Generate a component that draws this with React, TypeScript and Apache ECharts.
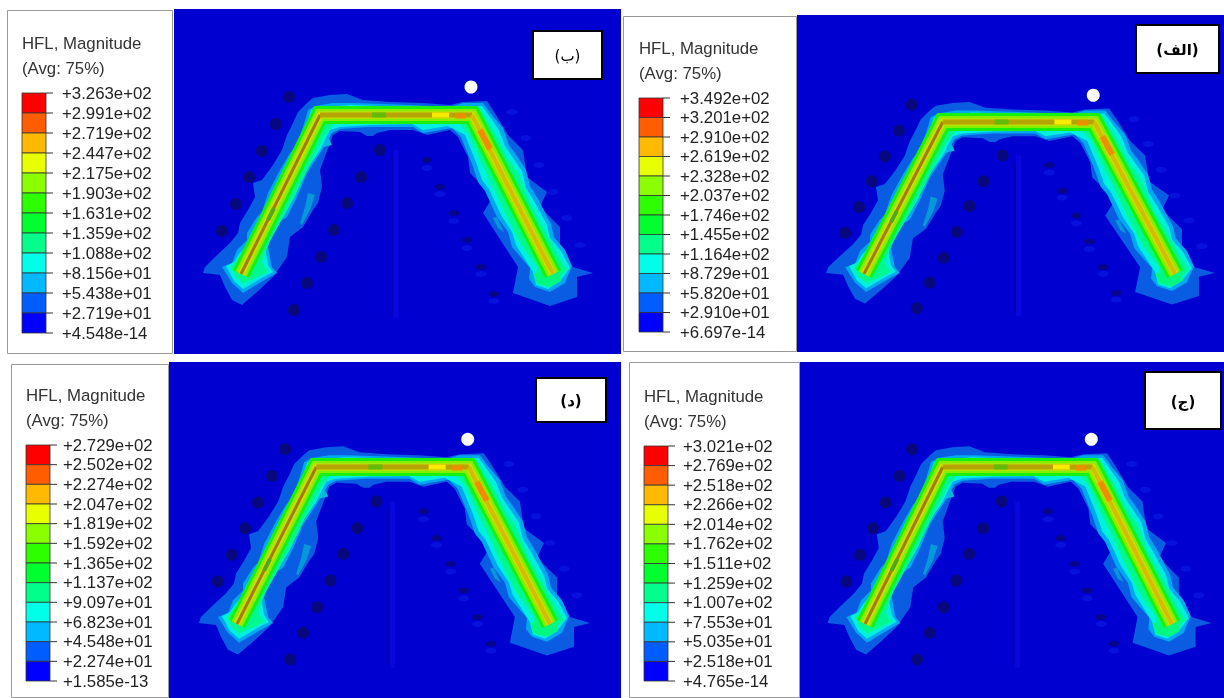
import React, { useEffect, useRef } from "react";
import * as echarts from "echarts";

// ---- legend values, one list per panel ----
const labelsB = ["+3.263e+02","+2.991e+02","+2.719e+02","+2.447e+02","+2.175e+02","+1.903e+02","+1.631e+02","+1.359e+02","+1.088e+02","+8.156e+01","+5.438e+01","+2.719e+01","+4.548e-14"];
const labelsA = ["+3.492e+02","+3.201e+02","+2.910e+02","+2.619e+02","+2.328e+02","+2.037e+02","+1.746e+02","+1.455e+02","+1.164e+02","+8.729e+01","+5.820e+01","+2.910e+01","+6.697e-14"];
const labelsD = ["+2.729e+02","+2.502e+02","+2.274e+02","+2.047e+02","+1.819e+02","+1.592e+02","+1.365e+02","+1.137e+02","+9.097e+01","+6.823e+01","+4.548e+01","+2.274e+01","+1.585e-13"];
const labelsJ = ["+3.021e+02","+2.769e+02","+2.518e+02","+2.266e+02","+2.014e+02","+1.762e+02","+1.511e+02","+1.259e+02","+1.007e+02","+7.553e+01","+5.035e+01","+2.518e+01","+4.765e-14"];
const bandColors = ["#ff0000","#ff5d00","#ffb900","#e8ff00","#8bff00","#2eff00","#00ff2e","#00ff8b","#00ffe8","#00b9ff","#005dff","#0000ff"];

// ---- contour outlines in model units ----
const contourOuter = [[203,273],[205,267],[215,257],[230,243],[238,233],[240,223],[248,210],[255,197],[253,183],[262,180],[273,165],[282,150],[287,135],[293,123],[298,112],[307,103],[313,98],[330,95],[347,94],[363,100],[390,102],[423,103],[450,105],[463,102],[487,101],[495,113],[508,135],[523,150],[527,177],[547,192],[540,207],[560,227],[560,250],[573,267],[593,273],[577,277],[577,297],[550,306],[513,293],[518,267],[507,250],[483,213],[492,198],[480,183],[470,173],[468,157],[458,137],[450,130],[427,135],[413,130],[390,130],[377,133],[373,136],[367,136],[360,132],[340,131],[333,135],[330,143],[320,170],[322,187],[318,203],[313,210],[303,227],[290,237],[287,257],[278,270],[273,277],[257,292],[242,305],[232,300],[225,287],[220,275]];
const contourLight = [[222,267],[232,263],[237,250],[247,240],[247,233],[257,217],[262,212],[268,193],[280,170],[290,153],[296,147],[303,127],[308,110],[315,106],[333,103],[353,103],[410,105],[450,107],[463,103],[483,103],[492,115],[503,128],[509,145],[515,153],[526,170],[530,186],[538,199],[551,224],[554,237],[565,250],[572,266],[565,283],[550,292],[535,287],[529,279],[530,268],[512,247],[508,232],[497,217],[485,191],[478,182],[472,164],[461,137],[452,128],[423,133],[413,127],[370,127],[340,129],[332,133],[322,150],[307,173],[297,197],[287,217],[276,224],[268,247],[272,267],[277,273],[268,278],[243,293],[232,283]];
const contourCyan = [[226,266],[234,262],[239,254],[249,243],[249,237],[260,218],[266,210],[272,192],[283,170],[294,150],[299,146],[306,126],[311,110],[318,108],[350,105],[410,107],[450,109],[465,106],[482,106],[490,117],[499,130],[505,146],[511,155],[522,171],[526,188],[534,201],[547,225],[550,238],[561,251],[570,268],[560,281],[548,289],[536,285],[533,272],[516,245],[512,232],[501,215],[489,189],[482,180],[476,162],[465,135],[448,126],[423,130],[412,124],[370,125],[340,127],[330,130],[320,150],[305,172],[295,196],[284,215],[278,220],[265,247],[268,265],[273,272],[265,276],[243,289],[234,281]];
const contourTeal = [[231,267],[241,255],[253,238],[263,220],[276,192],[287,170],[299,150],[310,124],[315,109],[350,107],[410,109],[450,111],[480,108],[487,120],[495,133],[507,157],[518,173],[530,203],[543,227],[557,253],[567,270],[556,280],[546,285],[537,281],[537,267],[520,243],[505,213],[493,187],[480,160],[469,135],[460,124],[448,122],[370,122],[335,122],[325,135],[312,160],[300,185],[287,210],[269,243],[262,262],[268,272],[243,284],[235,276]];
const patchLightA = [[308,193],[315,195],[310,210],[302,225],[300,223],[305,207]];
const patchLightB = [[477,177],[485,175],[486,185],[480,185]];
const patchLightC = [[493,218],[497,217],[504,232],[498,228]];
const patchCyan = [[320,148],[328,137],[332,145]];
const padGreen = [[533,273],[560,272],[561,281],[550,287],[537,284]];

// ---- model features ----
const heatPath = [[241,274],[320,115],[472,115],[553,274]];
const coreLeft = [[241,274],[320,115]];
const coreTop = [[320,115],[472,115]];
const coreRight = [[472,115],[553,274]];
const hotYellow = [[432,115],[449,115]];
const hotOrange = [[455,116],[466,116]];
const hotRight = [[480,130],[490,149]];
const coolLeft = [[268,220],[274,208]];
const coolTop = [[372,115],[386,115]];
const holesOuterLeft = [[289,97],[276,124],[262,151],[249,177],[236,204],[222,231]];
const holesInnerLeft = [[380,150],[361,177],[347,203],[334,230],[321,257],[307,283],[294,310]];
const holesInnerRight = [[427,160],[440,187],[454,213],[467,240],[481,267],[494,294]];
const holesInnerRightLow = [[427,168],[440,194],[454,221],[467,248],[481,274],[494,301]];
const holesOuterRight = [[512,112],[526,138],[539,165],[553,192],[567,218],[580,245]];
const slotBright = [[396,150],[396,318]];
const slotDark = [[392,158],[392,315]];
const whiteDot = [[471,87]];

// ---- page layout of the four panels ----
const panels = [
  { labels: labelsB, box: [7,10,173,354], plot: [174,9,621,354], anchor: [241,553,115,272], strip: [22,93,46,333], margin: 16, tag: "(ب)", tagBox: [532,30,603,80], weight: "normal" },
  { labels: labelsA, box: [623,16,797,352], plot: [797,15,1224,352], anchor: [864,1175,122,272], strip: [639,98,663,332], margin: 17, tag: "(الف)", tagBox: [1135,24,1220,74], weight: "bold" },
  { labels: labelsD, box: [11,364,169,698], plot: [169,362,621,698], anchor: [237,550,467,622], strip: [26,445,50,681], margin: 13, tag: "(د)", tagBox: [535,377,607,423], weight: "bold" },
  { labels: labelsJ, box: [629,362,800,698], plot: [800,362,1224,698], anchor: [865,1172,467,622], strip: [644,446,668,681], margin: 15, tag: "(ج)", tagBox: [1144,371,1222,430], weight: "bold" },
];
const FONT = "Liberation Sans";

function buildOption() {
  const grid: any[] = [], xAxis: any[] = [], yAxis: any[] = [], series: any[] = [], graphic: any[] = [];
  panels.forEach((p) => {
    const [pl, pt, pr, pb] = p.plot;
    const [xl, xr, yt, yb] = p.anchor;
    const sx = (xr - xl) / (553 - 241);
    const sy = (yb - yt) / (272 - 115);
    const gi = grid.length;
    grid.push({ left: pl, top: pt, width: pr - pl, height: pb - pt, show: true, backgroundColor: "#0000d0", borderWidth: 0 });
    xAxis.push({ gridIndex: gi, type: "value", show: false, scale: true, min: 241 + (pl - xl) / sx, max: 241 + (pr - xl) / sx });
    yAxis.push({ gridIndex: gi, type: "value", show: false, scale: true, inverse: true, min: 115 + (pt - yt) / sy, max: 115 + (pb - yt) / sy });

    let z = 2;
    const poly = (pts: number[][], color: string) => {
      series.push({
        type: "custom", xAxisIndex: gi, yAxisIndex: gi, z: z++, silent: true,
        coordinateSystem: "cartesian2d", data: pts, clip: true,
        renderItem: (params: any, api: any) => params.dataIndex === 0
          ? { type: "polygon", shape: { points: pts.map((q) => api.coord(q)) }, style: { fill: color } }
          : null,
      });
    };
    const line = (pts: number[][], color: string, width: number) => {
      series.push({
        type: "line", xAxisIndex: gi, yAxisIndex: gi, z: z++, silent: true, data: pts,
        showSymbol: false, symbol: "none",
        lineStyle: { color, width, cap: "butt", join: "miter", miterLimit: 4 },
      });
    };
    const dots = (pts: number[][], color: string, size: number | number[]) => {
      series.push({
        type: "scatter", xAxisIndex: gi, yAxisIndex: gi, z: z++, silent: true, data: pts,
        symbol: "circle", symbolSize: size, itemStyle: { color, opacity: 1 },
      });
    };
    line(slotBright, "#0808de", 5);
    line(slotDark, "#0404ac", 1.5);
    dots(holesOuterLeft, "#08087e", 12);
    dots(holesInnerLeft, "#08087e", 12);
    dots(holesInnerRightLow, "#0810de", [11, 6]);
    dots(holesInnerRight, "#06068c", [11, 6]);
    dots(holesOuterRight, "#0810de", [11, 6]);
    poly(contourOuter, "#0a5ce2");
    poly(patchLightA, "#0698d8");
    poly(patchLightB, "#0698d8");
    poly(patchLightC, "#0698d8");
    poly(contourLight, "#00a8f0");
    poly(patchCyan, "#00b8e0");
    poly(contourCyan, "#00f0e0");
    poly(contourTeal, "#00f890");
    poly(padGreen, "#00f880");
    line(heatPath, "#18f010", 18);
    line(heatPath, "#88ee00", 12);
    line(heatPath, "#ccde00", 7);
    line(coreLeft, "#a07c10", 3);
    line(coreTop, "#b4a404", 5);
    line(coreRight, "#d4bc00", 4);
    line(coolLeft, "#50a818", 4);
    line(coolTop, "#60bc08", 5);
    line(hotYellow, "#f8ea00", 5);
    line(hotOrange, "#ea9000", 5);
    line(hotRight, "#f08c00", 6);
    dots(whiteDot, "#ffffff", 13);

    // legend colour strip
    const [sl, st, sr, sb] = p.strip;
    const li = grid.length;
    grid.push({ left: sl, top: st, width: sr - sl, height: sb - st, show: false });
    xAxis.push({ gridIndex: li, type: "value", show: false, min: 0, max: 1 });
    yAxis.push({
      gridIndex: li, type: "category", position: "right", inverse: true, boundaryGap: false, data: p.labels,
      axisLine: { show: false },
      axisTick: { show: false },
      axisLabel: { show: true, interval: 0, margin: p.margin, color: "#222", fontFamily: FONT, fontSize: 16.8, lineHeight: 18, showMinLabel: true, showMaxLabel: true },
    });
    series.push({
      type: "custom", xAxisIndex: li, yAxisIndex: li, z: 3, silent: true, coordinateSystem: "cartesian2d", clip: false,
      data: p.labels.map((_, i) => [i]), encode: { y: 0 },
      renderItem: (params: any, api: any) => {
        const i = params.dataIndex;
        const a = api.coord([0, i]);
        const right = api.coord([1, i]);
        const tick = { type: "line", shape: { x1: right[0], y1: right[1], x2: right[0] + 7, y2: right[1] }, style: { stroke: "#333", lineWidth: 1 } };
        if (i >= bandColors.length) return tick;
        const b = api.coord([1, i + 1]);
        return {
          type: "group",
          children: [
            { type: "rect", shape: { x: a[0], y: a[1], width: b[0] - a[0], height: b[1] - a[1] }, style: { fill: bandColors[i], stroke: "#333", lineWidth: 0.8 } },
            tick,
          ],
        };
      },
    });

    // legend frame and heading, panel tag
    const [bl, bt, br, bb] = p.box;
    graphic.push({ type: "rect", z: -1, shape: { x: bl + 0.5, y: bt + 0.5, width: br - bl - 1, height: bb - bt - 1 }, style: { fill: "#fff", stroke: "#999", lineWidth: 1 } });
    graphic.push({ type: "text", z: 50, x: sl, y: st - 50, style: { text: "HFL, Magnitude", fontFamily: FONT, fontSize: 16.8, fill: "#333", textVerticalAlign: "middle" } });
    graphic.push({ type: "text", z: 50, x: sl, y: st - 25, style: { text: "(Avg: 75%)", fontFamily: FONT, fontSize: 16.8, fill: "#333", textVerticalAlign: "middle" } });
    const [tl, tt, tr, tb] = p.tagBox;
    graphic.push({ type: "rect", z: 60, shape: { x: tl + 1, y: tt + 1, width: tr - tl - 2, height: tb - tt - 2 }, style: { fill: "#fff", stroke: "#000", lineWidth: 2 } });
    graphic.push({ type: "text", z: 61, x: (tl + tr) / 2, y: (tt + tb) / 2 + 1, style: { text: p.tag, fontFamily: "DejaVu Sans", fontSize: 15, fontWeight: p.weight, fill: "#000", textAlign: "center", textVerticalAlign: "middle" } });
  });
  return { animation: false, backgroundColor: "#ffffff", grid, xAxis, yAxis, series, graphic };
}

export default function App() {
  const ref = useRef<HTMLDivElement>(null);
  useEffect(() => {
    const chart = echarts.init(ref.current!, undefined, { renderer: "svg" });
    chart.setOption(buildOption());
    return () => chart.dispose();
  }, []);
  return <div ref={ref} style={{ position: "fixed", left: 0, top: 0, width: 1224, height: 698, filter: "blur(0.6px)" }} />;
}
